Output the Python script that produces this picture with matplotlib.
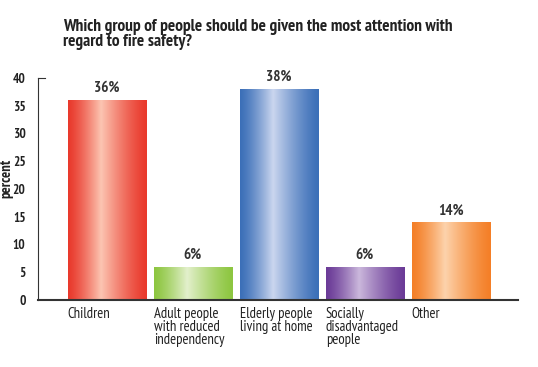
import numpy as np
import matplotlib
matplotlib.use("Agg")
import matplotlib.pyplot as plt
from matplotlib import font_manager

names = {f.name for f in font_manager.fontManager.ttflist}
candidates = ['PT Sans Narrow', 'Roboto Condensed', 'Fira Sans Condensed',
              'Open Sans Condensed', 'Archivo Narrow', 'Liberation Sans Narrow']
narrow = next((c for c in candidates if c in names), 'DejaVu Sans')
plt.rcParams['font.family'] = [narrow, 'DejaVu Sans']

# data
categories = ['Children', 'Adult people\nwith reduced\nindependency',
              'Elderly people\nliving at home', 'Socially\ndisadvantaged\npeople',
              'Other']
values = [36, 6, 38, 6, 14]
labels = ['36%', '6%', '38%', '6%', '14%']
yticks = [0, 5, 10, 15, 20, 25, 30, 35, 40]

# edge colour, centre highlight colour for each bar
edge_cols = ['#e9392c', '#8dc640', '#3b6fb8', '#6b3b97', '#f47f27']
mid_cols = ['#fcc5b2', '#e3f0cc', '#cbd6ef', '#cbb8dc', '#fdd3ac']


def gradient(c_edge, c_mid, n=200):
    e = np.array(matplotlib.colors.to_rgb(c_edge))
    m = np.array(matplotlib.colors.to_rgb(c_mid))
    t = np.linspace(0, 1, n)
    peak = 0.42
    w = np.where(t < peak, t / peak, (1 - t) / (1 - peak))
    w = w ** 1.3
    row = e[None, :] * (1 - w[:, None]) + m[None, :] * w[:, None]
    return row[None, :, :]


fig = plt.figure(figsize=(5.38, 3.67), dpi=100)
ax = fig.add_axes([38 / 538, 1 - 300 / 367, 480 / 538, 222 / 367])

x = np.arange(len(values))
bars = ax.bar(x, values, width=0.91, color='none', edgecolor='none', zorder=2)
ax.set_xlim(-0.8, 4.78)
ax.set_ylim(0, 40)

for b, ce, cm, lab in zip(bars, edge_cols, mid_cols, labels):
    x0, y0 = b.get_x(), b.get_y()
    w, h = b.get_width(), b.get_height()
    im = ax.imshow(gradient(ce, cm), extent=[x0, x0 + w, y0, y0 + h],
                   aspect='auto', zorder=2, interpolation='bilinear')
    im.set_clip_path(b)
    ax.text(x0 + w / 2, h + 0.9, lab, ha='center', va='bottom',
            fontsize=11, fontweight='bold', color='#333333')

ax.set_yticks(yticks)
ax.set_yticklabels([str(t) for t in yticks], fontsize=9.5, fontweight='bold',
                   color='#222222')
ax.tick_params(axis='y', length=0, pad=9)
ax.set_xticks([b.get_x() for b in bars])
ax.set_xticklabels(categories, fontsize=10.5, ha='left', va='top',
                   linespacing=0.9, color='#222222')
ax.tick_params(axis='x', length=0, pad=5)

for s in ['top', 'right']:
    ax.spines[s].set_visible(False)
ax.spines['left'].set_color('#333333')
ax.spines['left'].set_linewidth(0.8)
ax.spines['bottom'].set_color('#333333')
ax.spines['bottom'].set_linewidth(1.5)
# small cap at top of the left axis
ax.plot([-0.8, -0.72], [40, 40], color='#333333', lw=0.8, clip_on=False)

ax.set_ylabel('percent', fontsize=10.5, fontweight='bold', color='#222222',
              labelpad=2)
ax.yaxis.set_label_coords(-0.052, 0.55)

fig.text(63 / 538, 1 - 19 / 367,
         'Which group of people should be given the most attention with\nregard to fire safety?',
         ha='left', va='top', fontsize=12.5, fontweight='bold', color='#222222',
         linespacing=0.88)

fig.savefig('out.png', dpi=100)
